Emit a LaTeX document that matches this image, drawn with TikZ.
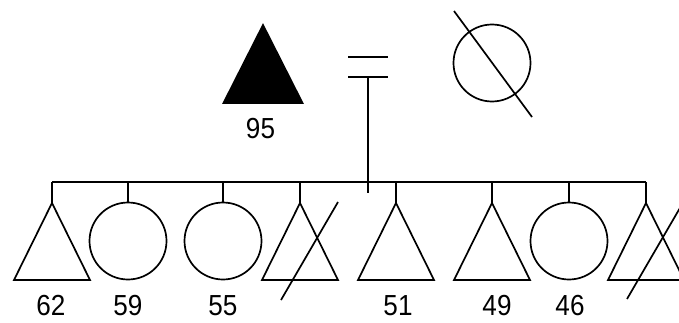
\documentclass[tikz,border=0pt]{standalone}
\usepackage{fontspec}
\setmainfont{Liberation Sans}
\newfontfamily\agefont[FakeStretch=0.9]{Liberation Sans}
\usetikzlibrary{positioning}

\begin{document}
\begin{tikzpicture}[x=1pt, y=1pt, line width=1.7pt,
    female/.style={draw, circle, minimum size=77pt, inner sep=0pt},
    age/.style={font=\agefont\fontsize{29}{30}\selectfont, inner sep=0pt, anchor=base}]
    \useasboundingbox (0,0) rectangle (679,322);

    % Parents
    \coordinate (father) at (263,297);
    \draw[fill=black] (father) -- ++(-39.5,-78) -- ++(79,0) -- cycle;
    \node[age] (fatherage) at (260.5,184) {95};
    \node[female] (mother) at (492,259) {};
    \draw ([shift={(-38,52)}]mother.center) -- ([shift={(40,-54)}]mother.center);

    % Union and sibship line
    \coordinate (union) at (368,245);
    \coordinate (stem) at (368,129);
    \draw ([xshift=-20pt]union) -- ([xshift=20pt]union);
    \draw ([shift={(-20,20)}]union) -- ([shift={(20,20)}]union);
    \draw (union) -- (stem);
    \coordinate (sibl) at (52,140);
    \coordinate (sibr) at (646,140);
    \draw (sibl) -- (sibr);

    % Sons
    \foreach \name/\x in {s62/52, s4/300, s51/396, s49/492, s8/646} {
        \coordinate (\name) at (\x,119);
        \draw (\name) -- ++(-38,-77) -- ++(76,0) -- cycle;
        \draw (\name |- sibl) -- (\name);
    }
    % Daughters
    \foreach \name/\x in {d59/128, d55/223, d46/569} {
        \node[female] (\name) at (\x,81) {};
        \draw (\name |- sibl) -- (\name.north);
    }
    % Deceased
    \draw ([shift={(-19,-97)}]s4) -- ([shift={(38,1)}]s4);
    \draw ([shift={(-19,-96)}]s8) -- ([shift={(38,2)}]s8);

    % Ages
    \foreach \a/\x in {62/51, 59/128, 55/223, 51/398, 49/497, 46/570}
        \node[age] (age\a) at (\x,7) {\a};
\end{tikzpicture}
\end{document}
